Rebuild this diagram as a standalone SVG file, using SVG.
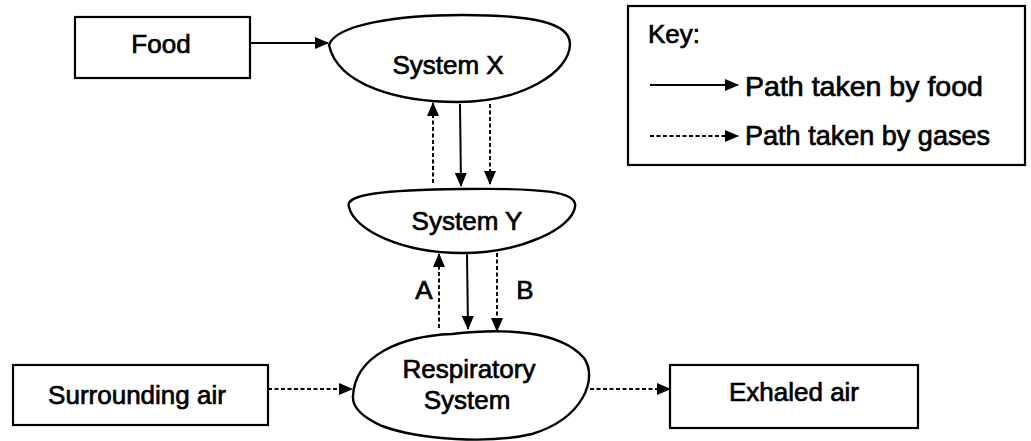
<svg xmlns="http://www.w3.org/2000/svg" width="1031" height="441" viewBox="0 0 1031 441">
<style>
.box{fill:#fff;stroke:#000;stroke-width:2.2}
.blob{fill:#fff;stroke:#000;stroke-width:2.4}
.t{font-family:"Liberation Sans",Arial,sans-serif;font-size:26px;fill:#000;stroke:#000;stroke-width:0.7;text-anchor:middle}
.s{stroke:#000;stroke-width:2;fill:none}
.d{stroke:#000;stroke-width:2;fill:none;stroke-dasharray:4 2.5}
</style>
<defs>
<marker id="ah" markerUnits="userSpaceOnUse" markerWidth="14" markerHeight="12" refX="13" refY="6" orient="auto">
<path d="M0,0 L14,6 L0,12 Z" fill="#000"/>
</marker>
</defs>
<rect width="1031" height="441" fill="#fff"/>
<g id="connectors">
<line class="s" x1="250" y1="43" x2="328" y2="43" marker-end="url(#ah)"/>
<line class="d" x1="433" y1="183" x2="433" y2="103" marker-end="url(#ah)"/>
<line class="s" x1="460" y1="104" x2="461" y2="186" marker-end="url(#ah)"/>
<line class="d" x1="490" y1="104" x2="490" y2="184" marker-end="url(#ah)"/>
<line class="d" x1="439" y1="328" x2="439" y2="254" marker-end="url(#ah)"/>
<line class="s" x1="467" y1="253" x2="468" y2="329" marker-end="url(#ah)"/>
<line class="d" x1="497" y1="253" x2="497" y2="331" marker-end="url(#ah)"/>
<line class="d" x1="268" y1="389" x2="352" y2="389" marker-end="url(#ah)"/>
<line class="d" x1="590" y1="389" x2="670" y2="389" marker-end="url(#ah)"/>
<text class="t" x="424" y="299">A</text>
<text class="t" x="525" y="299">B</text>
</g>
<g id="food">
<rect class="box" x="75" y="17" width="175" height="61"/>
<text class="t" x="161" y="53">Food</text>
</g>
<g id="systemX">
<path class="blob" d="M329,45 C336,24 400,15 462,15 C530,15 570,22 570,44 C570,72 522,102 458,102 C400,102 338,86 329,45 Z"/>
<text class="t" x="448" y="74">System X</text>
</g>
<g id="systemY">
<path class="blob" d="M349,207 C344,194 385,190 462,189 C540,188 578,191 575,207 C572,228 522,253 462,253 C402,253 354,230 349,207 Z"/>
<text class="t" x="467" y="230">System Y</text>
</g>
<g id="respiratory">
<path class="blob" d="M353,396 C355,356 400,336 452,334 C502,328 560,330 584,358 C598,378 584,418 532,434 C490,444 420,440 382,426 C362,417 352,407 353,396 Z"/>
<text class="t" x="469" y="378">Respiratory</text>
<text class="t" x="467" y="409">System</text>
</g>
<g id="surrounding">
<rect class="box" x="13" y="365" width="255" height="60"/>
<text class="t" x="137" y="404">Surrounding air</text>
</g>
<g id="exhaled">
<rect class="box" x="670" y="365" width="248" height="63"/>
<text class="t" x="794" y="401">Exhaled air</text>
</g>
<g id="key">
<rect class="box" x="628" y="6" width="397" height="159"/>
<text class="t" x="648" y="43" style="text-anchor:start">Key:</text>
<line class="s" x1="650" y1="85" x2="738" y2="85" marker-end="url(#ah)"/>
<text class="t" x="745" y="96" style="text-anchor:start;font-size:28px" textLength="238" lengthAdjust="spacingAndGlyphs">Path taken by food</text>
<line class="d" x1="650" y1="136" x2="738" y2="136" marker-end="url(#ah)"/>
<text class="t" x="745" y="145" style="text-anchor:start;font-size:28px" textLength="245" lengthAdjust="spacingAndGlyphs">Path taken by gases</text>
</g>
</svg>
